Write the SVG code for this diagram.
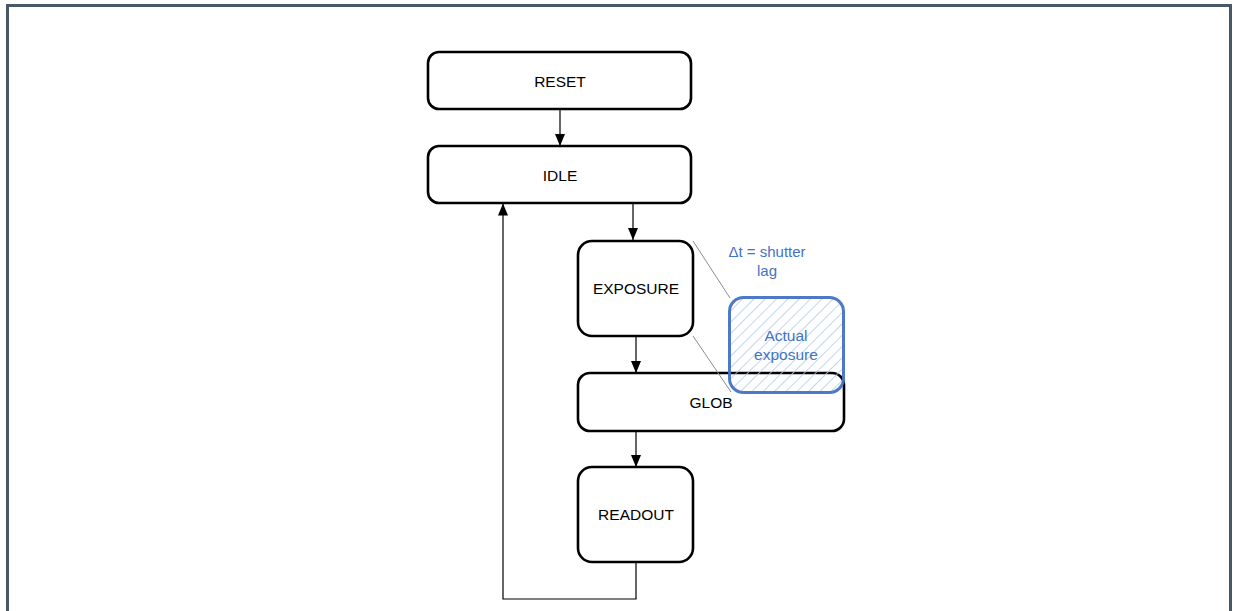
<svg xmlns="http://www.w3.org/2000/svg" width="1237" height="611" viewBox="0 0 1237 611">
<style>
.node rect{fill:#fff;stroke:#000;stroke-width:2.6}
.lbl{font-family:"Liberation Sans",Arial,sans-serif;font-size:15.5px;fill:#000;text-anchor:middle;dominant-baseline:central}
.conn{stroke:#000;stroke-width:1.2;fill:none}
.blue{font-family:"Liberation Sans",Arial,sans-serif;fill:#4472c4;text-anchor:middle;dominant-baseline:central}
.thin{stroke:#8c8c8c;stroke-width:1;fill:none}
</style>
<defs>
<marker id="ah" viewBox="0 0 12 10" refX="12" refY="5" markerWidth="12" markerHeight="10" markerUnits="userSpaceOnUse" orient="auto">
<path d="M0,0 L12,5 L0,10 Z" fill="#000"/>
</marker>
<pattern id="hatch" patternUnits="userSpaceOnUse" width="8" height="8" patternTransform="rotate(45)">
<line x1="0" y1="0" x2="0" y2="8" stroke="#b4cbeb" stroke-width="1.8"/>
</pattern>
</defs>
<rect width="1237" height="611" fill="#fff"/>
<path d="M7.5,620 V5.5 H1230.5 V620" fill="none" stroke="#485866" stroke-width="3"/>
<g id="connectors">
<line class="conn" x1="560" y1="109" x2="560" y2="146" marker-end="url(#ah)"/>
<line class="conn" x1="633" y1="203" x2="633" y2="240" marker-end="url(#ah)"/>
<line class="conn" x1="636" y1="336" x2="636" y2="373" marker-end="url(#ah)"/>
<line class="conn" x1="636" y1="431" x2="636" y2="467" marker-end="url(#ah)"/>
<path class="conn" d="M636,562 V599 H503 V203.5" marker-end="url(#ah)"/>
</g>
<g id="reset" class="node"><rect x="428" y="52" width="263" height="57" rx="11"/><text class="lbl" x="560" y="81">RESET</text></g>
<g id="idle" class="node"><rect x="428" y="146" width="263" height="57" rx="11"/><text class="lbl" x="560" y="175">IDLE</text></g>
<g id="exposure" class="node"><rect x="578" y="241" width="115" height="95" rx="14"/><text class="lbl" x="636" y="288">EXPOSURE</text></g>
<g id="glob" class="node"><rect x="578" y="373" width="266" height="58" rx="12"/><text class="lbl" x="711" y="402">GLOB</text></g>
<g id="readout" class="node"><rect x="578" y="467" width="115" height="95" rx="14"/><text class="lbl" x="636" y="514">READOUT</text></g>
<g id="callout">
<line class="thin" x1="693" y1="241" x2="730" y2="298"/>
<line class="thin" x1="693" y1="336" x2="731" y2="392"/>
<text class="blue" x="767" y="251" font-size="15">Δt = shutter</text>
<text class="blue" x="767" y="270" font-size="15">lag</text>
</g>
<g id="actual-exposure">
<rect x="729.5" y="297.5" width="114" height="95" rx="14" fill="url(#hatch)" fill-opacity="0.9" stroke="#4472c4" stroke-width="3" stroke-opacity="0.95"/>
<text class="blue" x="786" y="335" font-size="15.5">Actual</text>
<text class="blue" x="786" y="354" font-size="15.5">exposure</text>
</g>
</svg>
